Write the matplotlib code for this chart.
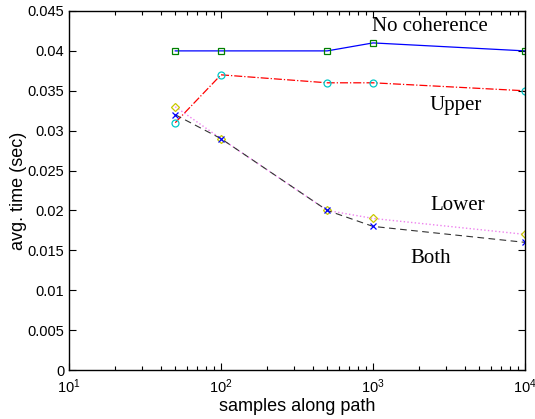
import matplotlib
matplotlib.use("Agg")
import matplotlib.pyplot as plt

samples = [50, 100, 500, 1000, 10000]
no_coherence = [0.040, 0.040, 0.040, 0.041, 0.040]
upper = [0.031, 0.037, 0.036, 0.036, 0.035]
lower = [0.033, 0.029, 0.020, 0.019, 0.017]
both = [0.032, 0.029, 0.020, 0.018, 0.016]
yticks = [0, 0.005, 0.01, 0.015, 0.02, 0.025, 0.03, 0.035, 0.04, 0.045]
ytick_labels = ["0", "0.005", "0.01", "0.015", "0.02", "0.025", "0.03", "0.035", "0.04", "0.045"]

plt.rcParams['font.family'] = ['Liberation Sans', 'DejaVu Sans']
fig = plt.figure(figsize=(5.35, 4.19), dpi=100)
ax = fig.add_axes([69/535, 49/419, 456/535, 359/419])

ax.plot(samples, no_coherence, '-', color='blue', lw=0.9, marker='s', ms=4.5,
        mfc='none', mec='green', mew=0.9)
ax.plot(samples, upper, '-.', color='red', lw=0.9, marker='o', ms=5,
        mfc='none', mec='#00c8c8', mew=0.9)
ax.plot(samples, lower, ':', color='violet', lw=1.0, marker='D', ms=4.5,
        mfc='none', mec='#c8c800', mew=0.9)
ax.plot(samples, both, '--', color='#333333', lw=0.8, dashes=(6, 4), marker='x', ms=4,
        mec='blue', mew=0.9)

ax.set_xscale('log')
ax.set_xlim(10, 10000)
ax.set_ylim(0, 0.045)
ax.set_yticks(yticks)
ax.set_yticklabels(ytick_labels)
ax.tick_params(which='both', direction='in', top=True, right=True, labelsize=10.5, width=0.8)
ax.tick_params(which='major', length=5)
ax.tick_params(which='minor', length=3)
ax.tick_params(axis='x', pad=5)
for s in ax.spines.values():
    s.set_linewidth(1.0)

ax.set_xlabel('samples along path', fontsize=13, labelpad=2)
ax.set_ylabel('avg. time (sec)', fontsize=13, labelpad=0)

serif = ['Liberation Serif', 'DejaVu Serif']
ax.text(985, 0.0430, 'No coherence', family=serif, fontsize=15, va='center', ha='left')
ax.text(2371, 0.0332, 'Upper', family=serif, fontsize=15, va='center', ha='left')
ax.text(2371, 0.0206, 'Lower', family=serif, fontsize=15, va='center', ha='left')
ax.text(1750, 0.0140, 'Both', family=serif, fontsize=15, va='center', ha='left')

fig.savefig('out.png', dpi=100)
